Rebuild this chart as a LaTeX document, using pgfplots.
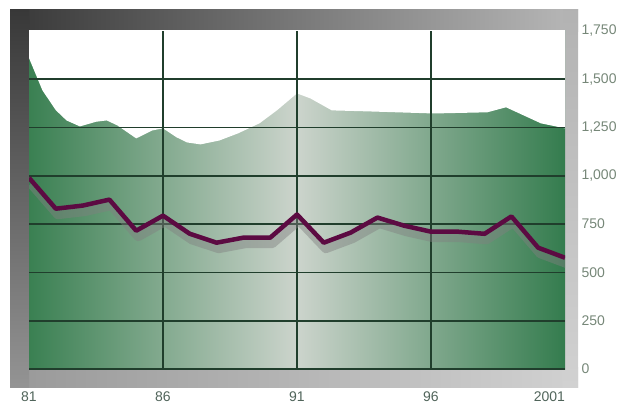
\documentclass[border=0pt]{standalone}
\usepackage{pgfplots}
\pgfplotsset{compat=1.18}
\usepackage{fontspec}
\setmainfont{Liberation Sans}
\definecolor{gridc}{RGB}{32,62,44}
\definecolor{gl}{RGB}{58,128,82}
\definecolor{gm}{RGB}{204,212,204}
\definecolor{gr}{RGB}{52,124,78}
\definecolor{linec}{RGB}{92,10,66}
\definecolor{tickc}{RGB}{118,135,120}
\definecolor{xtc}{RGB}{80,100,90}
\begin{document}
\begin{tikzpicture}[x=1pt,y=1pt]
\path[use as bounding box] (0,0) rectangle (625,405);
% frame
\shade[left color=black!78, right color=black!28] (10,373) rectangle (578,395);
\shade[left color=black!40, right color=black!18] (10,17) rectangle (578,37);
\shade[top color=black!30, bottom color=black!18] (563,17) rectangle (578,395);
\shade[top color=black!78, bottom color=black!42] (10,17) rectangle (29,395);
\begin{axis}[
  at={(29pt,36pt)}, anchor=south west,
  scale only axis, width=536pt, height=338pt,
  xmin=1981, xmax=2001, ymin=0, ymax=1750,
  axis line style={draw=none},
  axis background/.style={fill=white},
  major tick length=0pt,
  xtick={1981,1986,1991,1996,2001},
  xticklabels={81,86,91,96,\llap{2001}},
  ytick={0,250,500,750,1000,1250,1500,1750},
  yticklabel pos=right,
  /pgf/number format/assume math mode=true,
  /pgf/number format/1000 sep={,},
  yticklabel style={anchor=west, xshift=13pt, text=tickc, font=\fontsize{14}{14}\selectfont},
  xticklabel style={anchor=north, yshift=-19pt, text=xtc, font=\fontsize{14}{14}\selectfont},
  clip=true,
]
\shade[left color=gl, right color=gr, middle color=gm] (axis cs:1981,0) rectangle (axis cs:2001,1750);
\addplot[draw=none, fill=white] coordinates {
(1981,1610) (1981.5,1443) (1982,1340) (1982.4,1287) (1982.9,1256) (1983.5,1280)
(1983.9,1287) (1984.3,1261) (1985.0,1194) (1985.6,1235) (1986.0,1246) (1986.5,1200)
(1986.9,1173) (1987.4,1163) (1988.1,1183) (1988.8,1220) (1989.6,1272) (1990.25,1339)
(1991.0,1427) (1991.5,1401) (1992.3,1339) (1993.6,1334) (1996.1,1323) (1998.1,1329)
(1998.8,1355) (1999.3,1323) (2000.1,1272) (2001,1246)
} -- (axis cs:2001,1760) -- (axis cs:1981,1760) -- cycle;
\foreach \yy in {0,250,500,750,1000,1250,1500} {
  \edef\tmp{\noexpand\draw[gridc, line width=1.7pt] (axis cs:1981,\yy) -- (axis cs:2001,\yy);}\tmp
}
\foreach \xx in {1986,1991,1996} {
  \edef\tmp{\noexpand\draw[gridc, line width=1.7pt] (axis cs:\xx,0) -- (axis cs:\xx,1750);}\tmp
}
\addplot[black!50, opacity=0.45, line width=9pt, line join=round, transform canvas={xshift=2pt,yshift=-6pt}] coordinates {
(1981,990) (1982,830) (1983,846) (1984,877) (1985,716) (1986,794) (1987,700)
(1988,654) (1989,680) (1990,680) (1991,800) (1992,654) (1993,706) (1994,784)
(1995,742) (1996,711) (1997,711) (1998,700) (1999,790) (2000,628) (2001,576)
};
\addplot[linec, line width=4.5pt, line join=round] coordinates {
(1981,990) (1982,830) (1983,846) (1984,877) (1985,716) (1986,794) (1987,700)
(1988,654) (1989,680) (1990,680) (1991,800) (1992,654) (1993,706) (1994,784)
(1995,742) (1996,711) (1997,711) (1998,700) (1999,790) (2000,628) (2001,576)
};
\end{axis}
\end{tikzpicture}
\end{document}
